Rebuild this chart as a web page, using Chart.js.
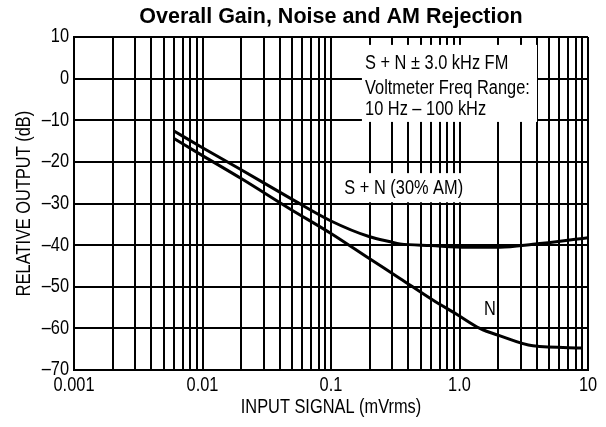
<!DOCTYPE html>
<html><head><meta charset="utf-8">
<script src="https://cdn.jsdelivr.net/npm/chart.js@4.4.1/dist/chart.umd.min.js"></script>
<style>html,body{margin:0;padding:0;background:#fff}#wrap{width:606px;height:427px;position:relative}</style>
</head><body><div id="wrap"><canvas id="c" width="606" height="427"></canvas></div>
<script>
// ---- data ----
const snInput  = [0.006, 0.01, 0.02, 0.048, 0.1, 0.2, 0.29, 0.344, 0.6, 1.14, 2.07, 3.73, 10];
const snOutput = [-12.6, -16.6, -21.9, -28.7, -34.2, -38.0, -39.2, -39.7, -40.1, -40.5, -40.5, -39.8, -38.2];
const nInput   = [0.006, 0.01, 0.02, 0.048, 0.1, 0.2, 0.344, 0.62, 0.95, 1.44, 2.07, 3.73, 9.0];
const nOutput  = [-14.4, -18.5, -24.0, -31.3, -37.2, -43.3, -48.0, -53.2, -56.6, -60.0, -61.8, -64.2, -64.7];
const xMajorTicks = [0.001, 0.01, 0.1, 1, 10];
const xTickLabels = ['0.001', '0.01', '0.1', '1.0', '10'];
const yTickValues = [-70, -60, -50, -40, -30, -20, -10, 0, 10];
const yTickLabels = ['\u201370', '\u201360', '\u201350', '\u201340', '\u201330', '\u201320', '\u201310', '0', '10'];
const titleText = 'Overall Gain, Noise and AM Rejection';
const xTitle = 'INPUT SIGNAL (mVrms)';
const yTitle = 'RELATIVE OUTPUT (dB)';
const noteLines = ['S + N \u00b1 3.0 kHz FM', 'Voltmeter Freq Range:', '10 Hz \u2013 100 kHz'];
const snLabel = 'S + N (30% AM)';
const nLabel = 'N';

// ---- presentation ----
const SANS = '"Liberation Sans", Arial, sans-serif';
const NARROW_FACTOR = 0.84;   // the reference uses a condensed face
const FS = 19.5;

// annotation placement in data units (x value, dB)
const notes = [
  { lines: noteLines, x: 0.184, ys: [3.7, -2.3, -7.5], box: [0.174, 8.1, 4.01, -10.4] },
  { lines: [snLabel], x: 0.127, ys: [-26.4], box: [0.124, -22.7, 1.21, -29.7] },
  { lines: [nLabel], x: 1.55, ys: [-55.6], box: [1.36, -51.0, 1.95, -58.6] }
];

const allXTicks = [];
for (let e = -3; e <= 0; e++) for (let m = 1; m <= 9; m++) allXTicks.push(+(m * Math.pow(10, e)).toPrecision(3));
allXTicks.push(10);

// condensed rendering of regular-weight text (Arial-Narrow look)
const canvas = document.getElementById('c');
const ctx2d = canvas.getContext('2d');
const origFill = ctx2d.fillText;
ctx2d.fillText = function (t, x, y, mw) {
  if (!/bold/.test(this.font)) {
    const w = this.measureText(String(t)).width * NARROW_FACTOR;
    mw = (mw === undefined || mw === null) ? w : Math.min(mw, w);
    return origFill.call(this, t, x, y, mw);
  }
  return mw === undefined ? origFill.call(this, t, x, y) : origFill.call(this, t, x, y, mw);
};

const notePlugin = {
  id: 'notes',
  beforeDatasetsDraw(chart) {
    const { ctx, scales: { x, y } } = chart;
    ctx.save();
    ctx.fillStyle = '#fff';
    for (const n of notes) {
      const x0 = x.getPixelForValue(n.box[0]), x1 = x.getPixelForValue(n.box[2]);
      const y0 = y.getPixelForValue(n.box[1]), y1 = y.getPixelForValue(n.box[3]);
      ctx.fillRect(x0, y0, x1 - x0, y1 - y0);
    }
    ctx.fillStyle = '#000';
    ctx.font = FS + 'px ' + SANS;
    ctx.textAlign = 'left';
    ctx.textBaseline = 'middle';
    for (const n of notes) {
      n.lines.forEach((t, i) => {
        ctx.fillText(t, x.getPixelForValue(n.x), y.getPixelForValue(n.ys[i]));
      });
    }
    ctx.restore();
  }
};

new Chart(canvas, {
  type: 'scatter',
  data: {
    datasets: [
      { label: snLabel, data: snInput.map((v, i) => ({ x: v, y: snOutput[i] })), showLine: true,
        borderColor: '#000', borderWidth: 3, pointRadius: 0, cubicInterpolationMode: 'monotone', fill: false },
      { label: nLabel, data: nInput.map((v, i) => ({ x: v, y: nOutput[i] })), showLine: true,
        borderColor: '#000', borderWidth: 3, pointRadius: 0, cubicInterpolationMode: 'monotone', fill: false }
    ]
  },
  options: {
    responsive: false,
    animation: false,
    devicePixelRatio: 1,
    layout: { padding: { left: 0, right: 18, top: 0, bottom: 0 } },
    plugins: { legend: { display: false }, tooltip: { enabled: false }, title: { display: false } },
    scales: {
      top: {
        type: 'logarithmic', position: 'top', min: 0.001, max: 10,
        afterFit: s => { s.height = 37; },
        grid: { display: false, drawTicks: false },
        border: { display: false },
        ticks: { display: false },
        title: { display: true, text: titleText, color: '#000',
          font: { family: SANS, size: 21.5, weight: 'bold' }, padding: { top: 4.5, bottom: 0 } }
      },
      x: {
        type: 'logarithmic', position: 'bottom', min: 0.001, max: 10,
        afterBuildTicks: s => { s.ticks = allXTicks.map(v => ({ value: v })); },
        afterFit: s => { s.height = 57; },
        grid: { color: '#000', lineWidth: 2, drawTicks: false },
        border: { color: '#000', width: 2 },
        ticks: { autoSkip: false, maxRotation: 0, padding: 4, color: '#000',
          font: { family: SANS, size: FS },
          callback: v => { const i = xMajorTicks.findIndex(m => Math.abs(m - v) / m < 1e-6); return i >= 0 ? xTickLabels[i] : ''; } },
        title: { display: true, text: xTitle, color: '#000', font: { family: SANS, size: FS }, padding: { top: 0, bottom: 7.5 } }
      },
      y: {
        min: -70, max: 10,
        afterBuildTicks: s => { s.ticks = yTickValues.map(v => ({ value: v })); },
        afterFit: s => { s.width = 74; },
        grid: { color: '#000', lineWidth: 2, drawTicks: false },
        border: { color: '#000', width: 2 },
        ticks: { padding: 5, color: '#000', font: { family: SANS, size: FS },
          callback: v => { const i = yTickValues.indexOf(v); return i >= 0 ? yTickLabels[i] : ''; } },
        title: { display: true, text: yTitle, color: '#000', font: { family: SANS, size: FS }, padding: { top: 13, bottom: 0 } }
      }
    }
  },
  plugins: [notePlugin]
});
</script>
</body></html>
